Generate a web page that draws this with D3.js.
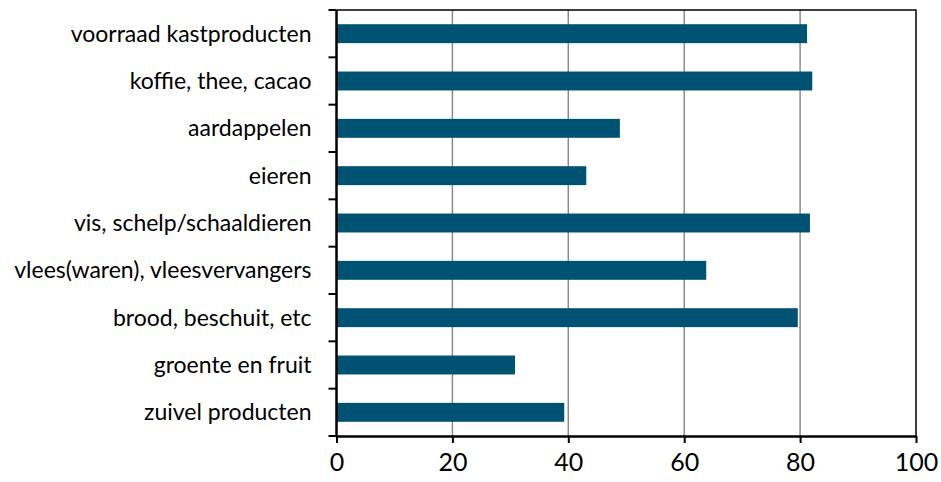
<!DOCTYPE html>
<html>
<head>
<meta charset="utf-8">
<script src="https://cdn.jsdelivr.net/npm/d3@7"></script>
<style>
  body { margin: 0; background: #fff; }
  text { font-family: Lato, "Liberation Sans", sans-serif; fill: #000; }
</style>
</head>
<body>
<div class="chart"></div>
<script>
// categories top to bottom
const CATEGORIES = [
  "voorraad kastproducten",
  "koffie, thee, cacao",
  "aardappelen",
  "eieren",
  "vis, schelp/schaaldieren",
  "vlees(waren), vleesvervangers",
  "brood, beschuit, etc",
  "groente en fruit",
  "zuivel producten",
];
const VALUES = [81.2, 82.1, 48.9, 43.1, 81.7, 63.8, 79.6, 30.8, 39.3];
const X_TICKS = [0, 20, 40, 60, 80, 100];

const WIDTH = 941;
const HEIGHT = 482;
const margin = { top: 10, right: 25, bottom: 46, left: 336.5 };
const BAR_COLOR = "#005272";

const svg = d3.select(".chart")
  .append("svg")
  .attr("width", WIDTH)
  .attr("height", HEIGHT);

const xScale = d3.scaleLinear()
  .domain([0, 100])
  .range([margin.left, WIDTH - margin.right]);

const yScale = d3.scaleBand()
  .domain(CATEGORIES)
  .range([margin.top, HEIGHT - margin.bottom])
  .paddingInner(0.6)
  .paddingOuter(0.3);

// band boundaries for the y tick marks
const yBoundary = d3.scaleLinear()
  .domain([0, CATEGORIES.length])
  .range([margin.top, HEIGHT - margin.bottom]);

// gridlines
svg.append("g")
  .selectAll("line")
  .data(X_TICKS.filter(d => d > 0 && d < 100))
  .join("line")
  .attr("x1", d => xScale(d))
  .attr("x2", d => xScale(d))
  .attr("y1", margin.top)
  .attr("y2", HEIGHT - margin.bottom)
  .attr("stroke", "#8c8c8c")
  .attr("stroke-width", 1.5);

// bars
svg.append("g")
  .selectAll("rect")
  .data(CATEGORIES)
  .join("rect")
  .attr("x", xScale(0))
  .attr("y", d => yScale(d))
  .attr("width", (d, i) => xScale(VALUES[i]) - xScale(0))
  .attr("height", yScale.bandwidth())
  .attr("fill", BAR_COLOR);

// frame top + right
svg.append("path")
  .attr("d", `M${xScale(0)},${margin.top}H${xScale(100)}V${HEIGHT - margin.bottom}`)
  .attr("fill", "none")
  .attr("stroke", "#000")
  .attr("stroke-width", 1.5);

// x axis
const xAxis = svg.append("g")
  .attr("transform", `translate(0, ${HEIGHT - margin.bottom})`)
  .call(d3.axisBottom(xScale).tickValues(X_TICKS).tickSize(7).tickPadding(10).tickSizeOuter(0));
xAxis.select(".domain").attr("stroke-width", 2.5);
xAxis.selectAll(".tick line").attr("stroke-width", 2);
xAxis.selectAll(".tick text")
  .attr("font-size", 25)
  .attr("font-family", "Lato, 'Liberation Sans', sans-serif");

// y axis: ticks at band boundaries
const yAxis = svg.append("g")
  .attr("transform", `translate(${xScale(0)}, 0)`);
yAxis.append("line")
  .attr("y1", margin.top)
  .attr("y2", HEIGHT - margin.bottom)
  .attr("stroke", "#000")
  .attr("stroke-width", 2.5);
yAxis.selectAll(".btick")
  .data(d3.range(CATEGORIES.length + 1))
  .join("line")
  .attr("class", "btick")
  .attr("x1", -8)
  .attr("x2", 0)
  .attr("y1", d => yBoundary(d))
  .attr("y2", d => yBoundary(d))
  .attr("stroke", "#000")
  .attr("stroke-width", 2);
yAxis.selectAll(".ylabel")
  .data(CATEGORIES)
  .join("text")
  .attr("class", "ylabel")
  .attr("x", -25)
  .attr("y", d => yScale(d) + yScale.bandwidth() / 2)
  .attr("dy", "0.35em")
  .attr("text-anchor", "end")
  .attr("font-size", 23)
  .text(d => d);
</script>
</body>
</html>
